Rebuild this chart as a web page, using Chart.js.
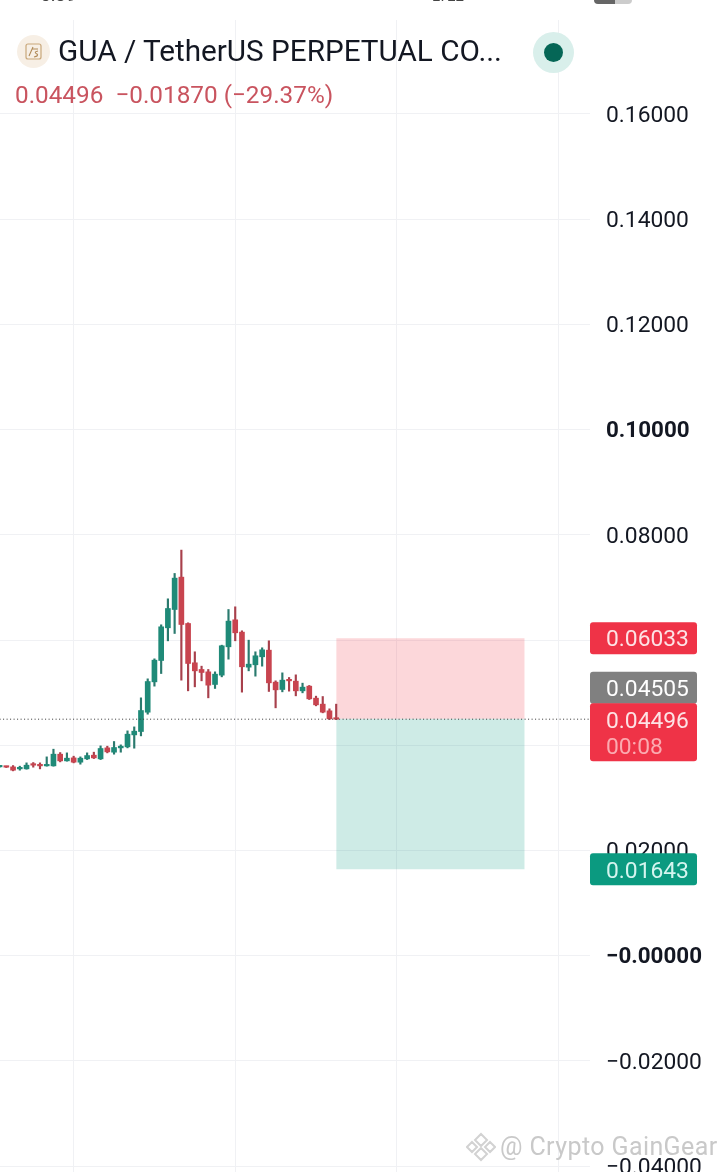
<!DOCTYPE html>
<html>
<head>
<meta charset="utf-8">
<script src="https://cdn.jsdelivr.net/npm/chart.js@4"></script>
<style>
  html, body { margin: 0; padding: 0; background: #fff; }
  #wrap { position: relative; width: 720px; height: 1172px; overflow: hidden; font-family: Roboto, sans-serif; }
  canvas { position: absolute; left: 0; top: 0; }
  .txt { position: absolute; white-space: nowrap; }
  #titulo { left: 58px; top: 33px; font-size: 29.7px; line-height: 36px; color: #131722; }
  #preco { left: 15px; top: 80px; font-size: 24.3px; line-height: 30px; color: #c9545f; }
  #logo { position: absolute; left: 17px; top: 35px; width: 33px; height: 33px; border-radius: 50%; background: #f7efe5; }
  #anel { position: absolute; left: 533px; top: 32px; width: 41px; height: 41px; border-radius: 50%; background: #d9efeb; }
  #ponto { position: absolute; left: 544px; top: 43px; width: 19px; height: 19px; border-radius: 50%; background: #056656; }
  #marca { left: 500px; top: 1132px; font-size: 25px; line-height: 30px; color: #c9c9c9; letter-spacing: 0.4px; }
  #hora { left: 40px; top: -15px; font-size: 19px; line-height: 20px; color: #444; }
  #status { left: 432px; top: -14px; font-size: 15px; line-height: 20px; color: #444; }
  #pilha { position: absolute; left: 594px; top: -8px; width: 38px; height: 12px; border-radius: 4px; background: linear-gradient(90deg, #666 55%, #ccc 55%); }
</style>
</head>
<body>
<div id="wrap">
  <canvas id="grafico" width="720" height="1172"></canvas>
  <div id="hora" class="txt">5:39</div>
  <div id="status" class="txt">LTE2</div>
  <div id="pilha"></div>
  <div id="logo">
    <svg width="33" height="33" viewBox="0 0 33 33">
      <rect x="9" y="9" width="15" height="15" rx="2" fill="none" stroke="#c9a77a" stroke-width="1.2"/>
      <path d="M12 21 L16 12 M15 14 H21 M21 16 Q16 17 20 19 Q22 21 17 22" fill="none" stroke="#b08a58" stroke-width="1.1"/>
    </svg>
  </div>
  <div id="titulo" class="txt">GUA / TetherUS PERPETUAL CO...</div>
  <div id="anel"></div>
  <div id="ponto"></div>
  <div id="preco" class="txt">0.04496&nbsp; −0.01870 (−29.37%)</div>
  <svg style="position:absolute;left:466px;top:1132px" width="30" height="30" viewBox="0 0 30 30">
    <path d="M15 2 L21 8 L15 14 L9 8 Z M6 10 L11 15 L6 20 L1 15 Z M24 10 L29 15 L24 20 L19 15 Z M15 16 L21 22 L15 28 L9 22 Z" fill="none" stroke="#d2d2d2" stroke-width="2"/>
  </svg>
  <div id="marca" class="txt">@ Crypto GainGear</div>
</div>
<script>
// candles, da esquerda para a direita
const aberturas = [.03590,.03596,.03590,.03552,.03552,.03641,.03628,.03609,.03609,.03831,.03704,.03761,.03679,.03742,.03812,.03742,.03951,.03869,.03951,.03970,.04198,.04262,.04629,.05206,.05612,.06233,.06581,.07196,.06315,.05568,.05441,.05396,.05156,.05333,.05872,.06385,.06151,.05485,.05530,.05682,.05808,.05200,.05061,.05251,.05219,.05035,.05124,.04896,.04782,.04655,.04505];
const fechamentos = [.03603,.03584,.03527,.03571,.03622,.03622,.03609,.03628,.03831,.03704,.03755,.03679,.03755,.03805,.03761,.03939,.03875,.03958,.03983,.04211,.04268,.04661,.05212,.05618,.06252,.06600,.07177,.06296,.05555,.05415,.05384,.05143,.05352,.05891,.06360,.06138,.05492,.05542,.05701,.05815,.05187,.05054,.05238,.05225,.05035,.05105,.04883,.04769,.04630,.04503,.04496];
const maximos = [.03610,.03603,.03615,.03603,.03666,.03672,.03666,.03780,.03926,.03862,.03856,.03793,.03780,.03856,.03869,.03989,.03983,.04072,.04008,.04274,.04350,.04902,.05263,.05643,.06290,.06784,.07266,.07710,.06328,.05777,.05504,.05441,.05396,.05903,.06581,.06632,.06176,.05998,.05777,.05853,.05986,.05225,.05377,.05289,.05339,.05181,.05137,.04934,.04927,.04693,.04782];
const minimos = [.03585,.03577,.03514,.03527,.03546,.03584,.03552,.03603,.03603,.03685,.03698,.03666,.03641,.03729,.03748,.03729,.03856,.03831,.03869,.03951,.03945,.04179,.04591,.05124,.05364,.05985,.06125,.05238,.05035,.05111,.05225,.04902,.05080,.05301,.05637,.05986,.05010,.05415,.05314,.05504,.05023,.04712,.05016,.05029,.04940,.04997,.04870,.04750,.04617,.04490,.04490];

// eixos
const valoresEixo = [0.16, 0.14, 0.12, 0.10, 0.08, 0.06, 0.04, 0.02, 0, -0.02, -0.04];
const rotulosEixo = ['0.16000', '0.14000', '0.12000', '0.10000', '0.08000', '0.06000', '0.04000', '0.02000', '−0.00000', '−0.02000', '−0.04000'];
const rotulosFortes = ['0.10000', '−0.00000'];
const gradeVertical = [11, 35, 59, 83];

// posição long/short
const posicaoInicio = 50;
const posicaoFim = 78;
const alvo = 0.06033;
const entrada = 0.04505;
const stop = 0.01643;
const ultimoPreco = 0.04496;
const contagem = '00:08';

const verde = '#1f8a78';
const vermelho = '#c8444f';

const indices = aberturas.map((_, i) => i);
const corCandle = indices.map(i => fechamentos[i] >= aberturas[i] ? verde : vermelho);
const corPavio = indices.map(i => fechamentos[i] >= aberturas[i] ? '#2a7a6e' : '#a8404c');

// etiquetas de preço à direita, sobre o eixo
const etiquetas = {
    id: 'etiquetas',
    afterDraw(chart) {
        const c = chart.ctx;
        const y = chart.scales.y;
        const caixa = (topo, altura, cor) => {
            c.fillStyle = cor;
            c.beginPath();
            c.roundRect(590, topo, 107, altura, 3);
            c.fill();
        };
        const texto = (t, py, cor) => {
            c.fillStyle = cor;
            c.fillText(t, 606, py);
        };
        c.save();
        c.font = '22.8px Roboto';
        c.textBaseline = 'middle';
        c.textAlign = 'left';
        const pa = y.getPixelForValue(alvo);
        const pe = y.getPixelForValue(entrada);
        const pu = y.getPixelForValue(ultimoPreco);
        const ps = y.getPixelForValue(stop);
        caixa(pa - 16, 32, '#ef3347');
        texto(alvo.toFixed(5), pa + 2, '#fde3e5');
        caixa(pe - 47, 32, '#808080');
        texto(entrada.toFixed(5), pe - 28, '#fff');
        caixa(pu - 16, 58, '#ef3347');
        texto(ultimoPreco.toFixed(5), pu + 3, '#fde3e5');
        texto(contagem, pu + 29, '#fbaab0');
        caixa(ps - 16, 32, '#0b9a80');
        texto(stop.toFixed(5), ps + 3, '#d5f5ef');
        c.restore();
    }
};

new Chart(document.getElementById('grafico'), {
    type: 'bar',
    data: {
        datasets: [
            {
                type: 'line', order: 5,
                data: [{ x: posicaoInicio, y: alvo }, { x: posicaoFim, y: alvo }],
                fill: { value: entrada }, backgroundColor: 'rgba(242,54,69,0.2)',
                borderWidth: 0, pointRadius: 0
            },
            {
                type: 'line', order: 5,
                data: [{ x: posicaoInicio, y: entrada }, { x: posicaoFim, y: entrada }],
                fill: { value: stop }, backgroundColor: 'rgba(8,153,129,0.2)',
                borderWidth: 0, pointRadius: 0
            },
            {
                order: 3,
                data: indices.map(i => ({ x: i, y: [minimos[i], maximos[i]] })),
                backgroundColor: corPavio, barThickness: 1.5, grouped: false
            },
            {
                order: 2,
                data: indices.map(i => ({ x: i, y: [aberturas[i], fechamentos[i]] })),
                backgroundColor: corCandle, barThickness: 5, grouped: false, minBarLength: 1.5
            },
            {
                type: 'line', order: 1,
                data: [{ x: 0, y: ultimoPreco }, { x: 88, y: ultimoPreco }],
                borderColor: '#333', borderWidth: 1, borderDash: [1, 2.5], pointRadius: 0
            }
        ]
    },
    options: {
        responsive: false,
        animation: false,
        layout: { padding: { top: 20, left: 0, right: 0, bottom: 0 } },
        plugins: { legend: { display: false }, tooltip: { enabled: false } },
        scales: {
            x: {
                type: 'linear',
                min: 0.06,
                max: 87.7,
                offset: false,
                border: { display: false },
                grid: { color: '#f0f1f4', lineWidth: 1, drawTicks: false, offset: false },
                ticks: { display: false },
                afterBuildTicks: axis => { axis.ticks = gradeVertical.map(v => ({ value: v })); },
                afterFit: axis => { axis.height = 0; }
            },
            y: {
                position: 'right',
                min: -0.0411,
                max: 0.17785,
                border: { display: false },
                grid: { color: '#f0f1f4', lineWidth: 1, drawTicks: false },
                afterBuildTicks: axis => { axis.ticks = valoresEixo.map(v => ({ value: v })); },
                afterFit: axis => {
                    axis.width = 130;
                    // os rótulos das pontas podem sair da área, como no original
                    axis.paddingTop = 0;
                    axis.paddingBottom = 0;
                },
                ticks: {
                    autoSkip: false,
                    padding: 16,
                    crossAlign: 'near',
                    labelOffset: 2,
                    color: '#131722',
                    callback: (v, i) => rotulosEixo[i],
                    font: ctx => {
                        const forte = rotulosFortes.includes(rotulosEixo[ctx.index]);
                        return { family: 'Roboto', size: forte ? 22.4 : 22.8, weight: forte ? 'bold' : 'normal' };
                    }
                }
            }
        }
    },
    plugins: [etiquetas]
});
</script>
</body>
</html>
